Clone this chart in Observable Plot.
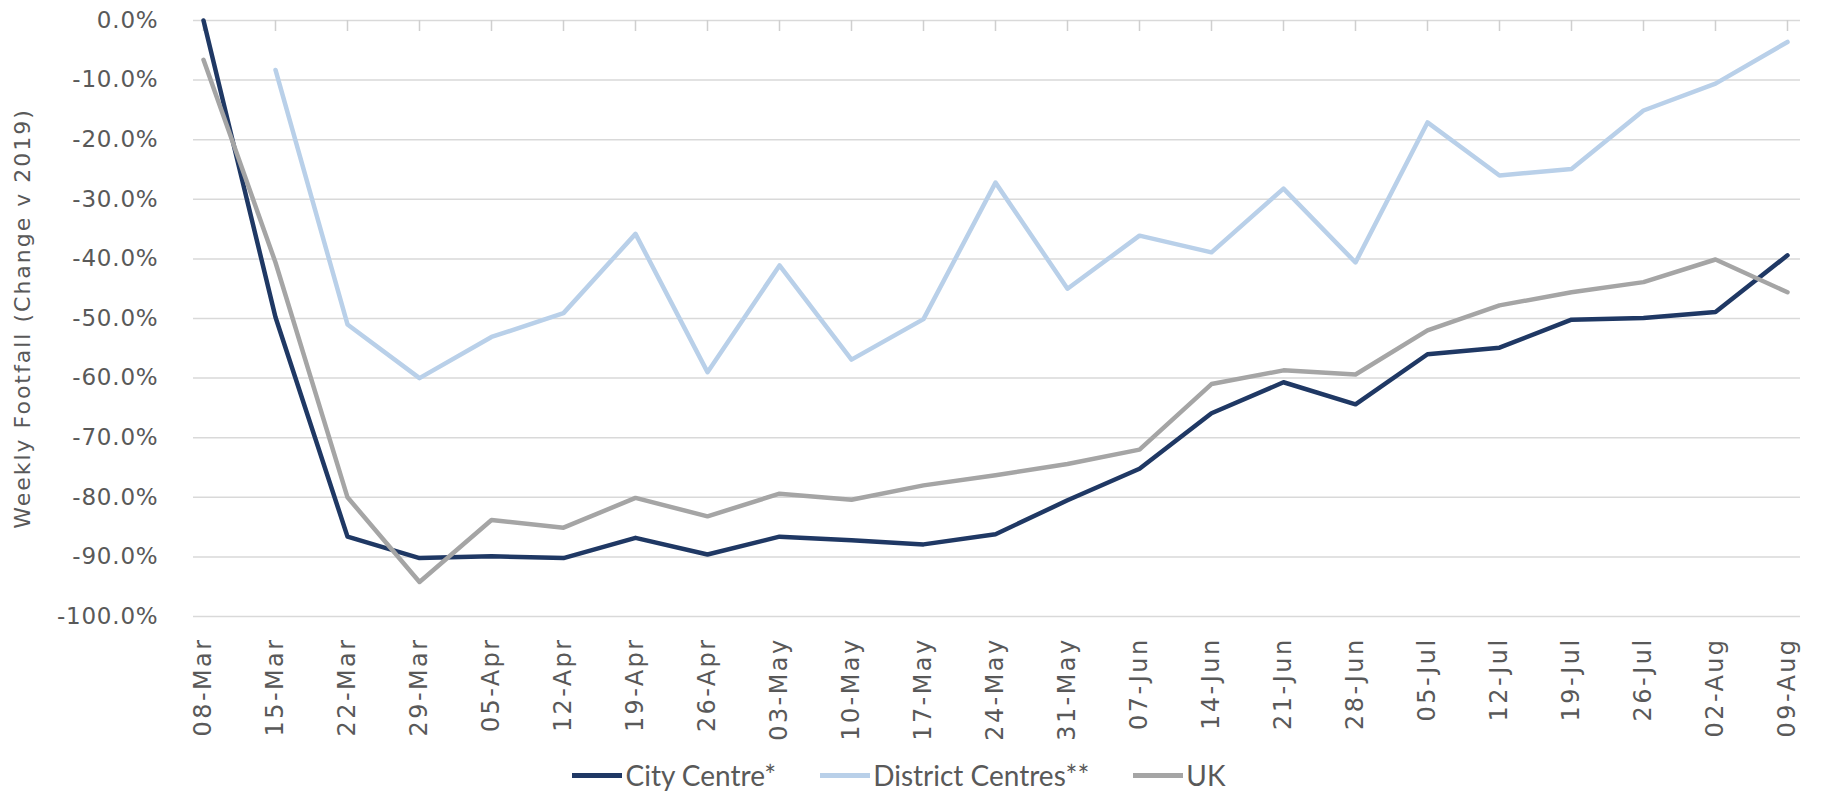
<!DOCTYPE html>
<html><head><meta charset="utf-8">
<script src="https://cdn.jsdelivr.net/npm/d3@7"></script>
<script src="https://cdn.jsdelivr.net/npm/@observablehq/plot@0.6"></script>
<style>
body{margin:0;background:#fff;}
#legend{display:flex;justify-content:center;align-items:center;height:46px;padding-right:28px;font-family:Lato,"Open Sans",sans-serif;font-size:28px;color:#595959;}
.item{display:flex;align-items:center;margin:0 22px;}
.sw{width:50px;height:5px;margin-right:3px;}
</style></head>
<body><div id="chart"></div><div id="legend"></div>
<script>
const weeks = ["08-Mar","15-Mar","22-Mar","29-Mar","05-Apr","12-Apr","19-Apr","26-Apr","03-May","10-May","17-May","24-May","31-May","07-Jun","14-Jun","21-Jun","28-Jun","05-Jul","12-Jul","19-Jul","26-Jul","02-Aug","09-Aug"];
const cityCentre = [0, -49.8, -86.6, -90.2, -89.9, -90.2, -86.8, -89.6, -86.6, -87.2, -87.9, -86.2, -80.5, -75.2, -65.9, -60.7, -64.4, -56.0, -54.9, -50.2, -49.9, -48.9, -39.4];
const districtCentres = [null, -8.3, -51, -60, -53.1, -49.1, -35.8, -59, -41.1, -56.9, -50.1, -27.2, -45, -36.1, -38.9, -28.2, -40.6, -17.1, -26.0, -24.9, -15.1, -10.6, -3.6];
const uk = [-6.6, -40.6, -80, -94.2, -83.8, -85.1, -80.1, -83.2, -79.4, -80.4, -78, -76.3, -74.4, -72, -61, -58.7, -59.4, -52, -47.8, -45.6, -43.9, -40.1, -45.6];
const seriesNames = ["City Centre*", "District Centres**", "UK"];
const seriesColors = ["#1f3864", "#b9d0e9", "#a5a5a5"];
const yTicks = [0, -10, -20, -30, -40, -50, -60, -70, -80, -90, -100];
const yTitle = "Weekly Footfall (Change v 2019)";

const seriesData = [cityCentre, districtCentres, uk];
const rows = [];
seriesData.forEach((vals, s) => vals.forEach((v, i) => {
  if (v != null) rows.push({week: weeks[i], value: v, series: seriesNames[s]});
}));

const W = 1826, H = 752, MT = 20, MB = 136, TICK = 11;
const plot = Plot.plot({
  width: W, height: H,
  marginTop: MT, marginBottom: MB, marginLeft: 197, marginRight: 33,
  x: {type: "point", domain: weeks, padding: 0},
  y: {domain: [-100, 0]},
  color: {domain: seriesNames, range: seriesColors},
  style: {fontFamily: "'DejaVu Sans', sans-serif", color: "#595959", background: "#fff"},
  marks: [
    Plot.ruleY(yTicks, {stroke: "#d9d9d9", strokeWidth: 1.5, insetLeft: -4, insetRight: -7}),
    Plot.ruleX(weeks, {x: d => d, stroke: "#cfcfcf", strokeWidth: 1.5, insetBottom: H - MT - MB - TICK}),
    Plot.axisX({anchor: "bottom", tickSize: 0, tickPadding: 21, tickRotate: -90, fontSize: 24, label: null}),
    Plot.axisY({ticks: yTicks, tickSize: 0, tickPadding: 39, tickFormat: d => d.toFixed(1) + "%", fontSize: 23,
      label: yTitle, labelAnchor: "center", labelArrow: "none", labelOffset: 183}),
    Plot.line(rows, {x: "week", y: "value", z: "series", stroke: "series", strokeWidth: 4.5, strokeLinejoin: "round"})
  ]
});
document.getElementById("chart").append(plot);
const svg = d3.select(plot);
svg.selectAll('g[aria-label="x-axis tick label"]').attr("letter-spacing", 2.4);
svg.selectAll('g[aria-label="y-axis tick label"]').attr("letter-spacing", 0.8);
svg.selectAll('g[aria-label="y-axis label"]').attr("letter-spacing", 2).attr("font-size", 22);

const legend = d3.select("#legend");
seriesNames.forEach((name, i) => {
  const item = legend.append("div").attr("class", "item");
  item.append("div").attr("class", "sw").style("background", seriesColors[i]);
  item.append("span").text(name);
});
</script>
</body></html>
